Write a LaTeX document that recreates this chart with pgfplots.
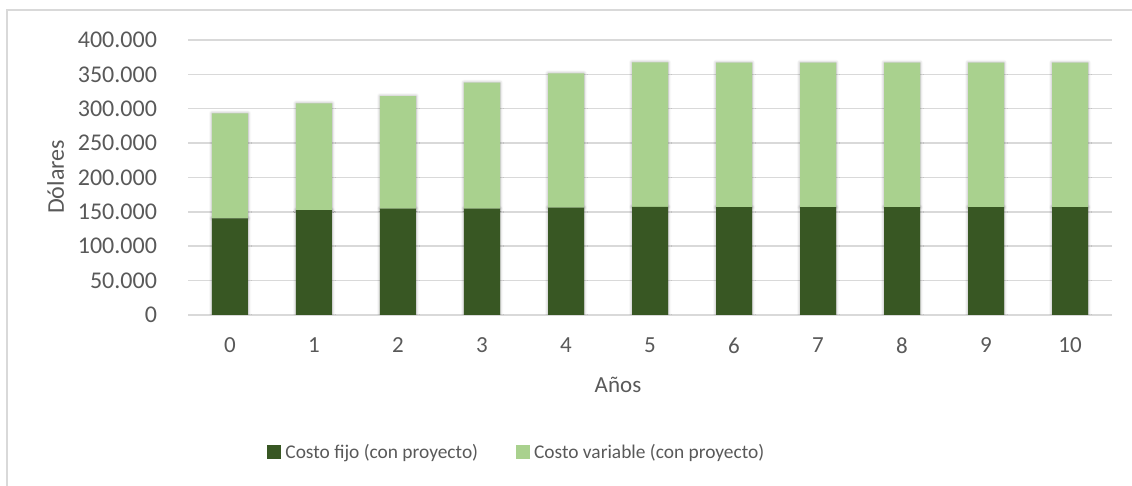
\documentclass[border=0pt]{standalone}
\usepackage{fontspec}
\setmainfont{Carlito}
\usepackage{pgfplots}
\usepackage{pgfplotstable}
\pgfplotsset{compat=1.18}
\usetikzlibrary{shadows.blur}

\definecolor{costofijo}{HTML}{385723}
\definecolor{costovar}{HTML}{A9D18E}
\definecolor{rejilla}{HTML}{D9D9D9}
\definecolor{texto}{HTML}{595959}

\pgfplotsset{
  marco/.style={
    at={(94pt,85.5pt)}, anchor=south west, scale only axis,
    width=462pt, height=137.5pt,
    ybar stacked, bar width=18pt,
    xmin=-0.5, xmax=10.5, ymin=0, ymax=400000,
    xtick={0,...,10}, ytick={0,50000,...,400000},
    scaled y ticks=false,
    axis line style={draw=none},
    major tick length=0pt,
  },
  sombra/.style={draw=none, fill=none,
    blur shadow={shadow xshift=0pt, shadow yshift=0pt,
                 shadow blur radius=1.5pt, shadow opacity=35}},
}

\pgfplotstableread{
anio fijo   variable
0    140600 152800
1    152700 155200
2    154700 163800
3    154700 183300
4    156100 195400
5    157300 210200
6    156800 210200
7    156800 210200
8    156800 210200
9    156800 210200
10   156800 210200
}\costos

\begin{document}
\begin{tikzpicture}[x=1pt,y=1pt]
\useasboundingbox (0,0) rectangle (566,243);
% chart frame
\draw[rejilla, line width=0.75pt] (3.5,-5) -- (3.5,238) -- (570,238);
% gridlines and soft bar shadows underneath
\begin{axis}[marco,
  ymajorgrids, grid style={rejilla, line width=0.75pt},
  xticklabels={}, yticklabels={}]
\addplot[sombra] table[x=anio, y=fijo] {\costos};
\addplot[sombra] table[x=anio, y=variable] {\costos};
\end{axis}
% bars, tick labels and legend
\begin{axis}[marco,
  /pgf/number format/assume math mode=true,
  y tick label style={/pgf/number format/fixed, /pgf/number format/1000 sep={.},
    xshift=-12pt, font=\fontsize{12}{14}\selectfont},
  x tick label style={yshift=-8pt, font=\fontsize{11.5}{14}\selectfont},
  tick label style={text=texto},
  legend style={at={(0.357,-0.500)}, anchor=center, draw=none, fill=none,
    legend columns=2, text=texto, font=\fontsize{9.7}{12}\selectfont,
    /tikz/every even column/.append style={column sep=17pt},
    /tikz/every odd column/.append style={column sep=0pt}},
  legend cell align=left,
]
\addplot[fill=costofijo, draw=none,
  legend image code/.code={\fill[costofijo] (0pt,-3.5pt) rectangle (7pt,3.5pt);}]
  table[x=anio, y=fijo] {\costos};
\addlegendentry{Costo fijo (con proyecto)}
\addplot[fill=costovar, draw=none,
  legend image code/.code={\fill[costovar] (0pt,-3.5pt) rectangle (7pt,3.5pt);}]
  table[x=anio, y=variable] {\costos};
\addlegendentry{Costo variable (con proyecto)}
\end{axis}
\node[texto, rotate=90, font=\fontsize{12}{14}\selectfont] at (27.8,154.5) {Dólares};
\node[texto, font=\fontsize{11.5}{14}\selectfont] at (309,50.5) {Años};
\end{tikzpicture}
\end{document}
